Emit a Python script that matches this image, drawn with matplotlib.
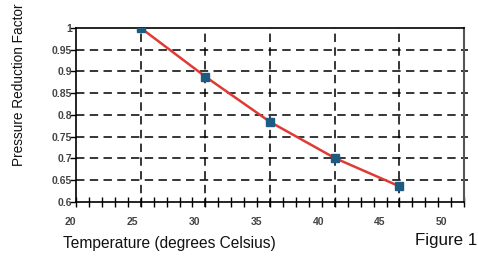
import numpy as np
import matplotlib.pyplot as plt

plt.rcParams['font.family'] = ['Liberation Sans', 'DejaVu Sans']

temps = [25, 30, 35, 40, 45]
factor = [1.0, 0.888, 0.784, 0.701, 0.636]
xlabels = [20, 25, 30, 35, 40, 45, 50]
ylabels = [0.6, 0.65, 0.7, 0.75, 0.8, 0.85, 0.9, 0.95, 1]

fig = plt.figure(figsize=(4.78, 2.56), dpi=100)
ax = fig.add_axes([0.159, 0.211, 0.812, 0.680])

ax.set_xlim(20, 50)
ax.set_ylim(0.6, 1.0)

# grid lines (dashed black)
for x in temps:
    ax.axvline(x, color='black', lw=1.1, ls=(0, (5.5, 3.5)), zorder=1, ymin=-0.03, clip_on=False)
for y in ylabels[1:-1]:
    ax.plot([20, 50.3], [y, y], color='black', lw=1.1, ls=(0, (5.5, 3.5)), zorder=1, clip_on=False)

ax.plot(temps, factor, color='#e03a35', lw=1.8, zorder=3)
ax.plot(temps, factor, ls='none', marker='s', ms=5.5, color='#1e5b82', zorder=4)

# x ticks: marks every 1 degree, labels slightly off like the original
ax.set_xticks(np.arange(20, 51, 5))
ax.set_xticks(np.arange(20, 51, 1), minor=True)
ax.tick_params(axis='x', which='both', direction='inout', length=7, width=1, labelbottom=False)
for v in xlabels:
    xpos = 20 + (v - 20) * 0.956 - 0.4
    ax.text(xpos, -0.085, str(v), transform=ax.get_xaxis_transform(),
            ha='center', va='top', fontsize=7.5, fontweight='bold', color='#444444')

ax.set_yticks(ylabels)
ax.set_yticklabels([('%g' % v) for v in ylabels], fontsize=7.5, fontweight='bold', color='#444444')
ax.tick_params(axis='y', direction='out', length=4, width=1, pad=-1)

for s in ['left', 'bottom', 'top']:
    ax.spines[s].set_linewidth(1.2)
ax.spines['right'].set_color('#555555')
ax.spines['right'].set_linewidth(1.5)

fig.text(0.04, 0.67, 'Pressure Reduction Factor', rotation=90, ha='center', va='center',
         fontsize=9.8, color='#111111')
fig.text(0.132, 0.05, 'Temperature (degrees Celsius)', ha='left', va='center',
         fontsize=11.2, color='#111111')
fig.text(0.868, 0.062, 'Figure 1', ha='left', va='center', fontsize=12.2, color='#111111')

fig.savefig('out.png', dpi=100)
